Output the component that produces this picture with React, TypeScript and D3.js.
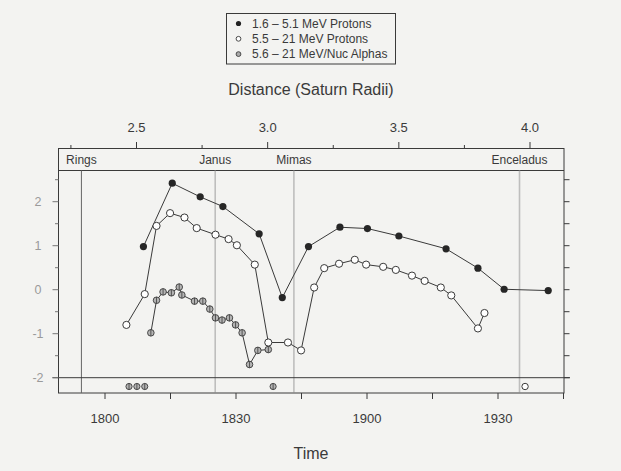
import React from "react";
import * as d3 from "d3";

// ---- data (time in minutes after 18:00, values are log intensity) ----
const lowProtonTime = [8.8, 15.4, 21.8, 27.0, 35.3, 40.6, 46.6, 53.8, 60.1, 67.3, 78.1, 85.4, 91.4, 101.5];
const lowProtonVal = [0.98, 2.42, 2.11, 1.89, 1.27, -0.18, 0.98, 1.42, 1.39, 1.22, 0.93, 0.49, 0.01, -0.02];

const highProtonTime = [4.9, 9.1, 11.8, 14.9, 18.2, 21.0, 25.3, 28.3, 30.2, 34.3, 37.4, 41.9, 44.9, 47.9, 50.2, 53.6, 57.2, 59.8, 63.7, 66.6, 70.3, 73.2, 76.9, 79.3, 85.4, 86.9];
const highProtonVal = [-0.8, -0.1, 1.45, 1.74, 1.64, 1.4, 1.25, 1.15, 1.01, 0.57, -1.2, -1.2, -1.38, 0.05, 0.49, 0.59, 0.68, 0.57, 0.52, 0.45, 0.32, 0.2, 0.05, -0.13, -0.88, -0.53];
const highProtonBelowTime = [96.2];

const alphaTime = [10.5, 11.8, 13.3, 15.2, 17.0, 17.6, 20.5, 22.4, 24.0, 25.3, 26.8, 28.5, 29.9, 31.4, 33.1, 35.0, 37.4];
const alphaVal = [-0.98, -0.24, -0.05, -0.07, 0.06, -0.12, -0.26, -0.26, -0.44, -0.64, -0.69, -0.64, -0.8, -0.98, -1.7, -1.38, -1.36];
const alphaBelowTime = [5.5, 7.3, 9.1, 38.5];

const moonNames = ["Rings", "Janus", "Mimas", "Enceladus"];
const moonDist = [2.29, 2.8, 3.1, 3.96];

const timeTicks = [0, 15, 30, 45, 60, 75, 90, 105];
const timeLabelTicks = [0, 30, 60, 90];
const timeLabels = ["1800", "1830", "1900", "1930"];

const distTicks = [2.25, 2.5, 2.75, 3.0, 3.25, 3.5, 3.75, 4.0];
const distLabelTicks = [2.5, 3.0, 3.5, 4.0];

const yTicks = [-2, -1.5, -1, -0.5, 0, 0.5, 1, 1.5, 2, 2.5];
const yLabelTicks = [-2, -1, 0, 1, 2];

const legendLabels = ["1.6 \u2013 5.1 MeV Protons", "5.5 \u2013 21 MeV Protons", "5.6 \u2013 21 MeV/Nuc Alphas"];

const BELOW = -2.2;

const W = 621;
const H = 471;
const FONT = "'Liberation Sans', Arial, Helvetica, sans-serif";
const INK = "#3a3a3a";

export default function App() {
  const left = 58.5, right = 564, boxTop = 148.5, bandBottom = 170.5, boxBottom = 393;
  const x = d3.scaleLinear().domain([0, 90]).range([105, 498]);
  const dist = d3.scaleLinear().domain([2.5, 4.0]).range([136.5, 530]);
  const y = d3.scaleLinear().domain([-2, 2]).range([377.7, 201.7]);

  const line = d3.line<[number, number]>().x((d) => x(d[0])).y((d) => y(d[1]));
  const lowPts = lowProtonTime.map((t, i) => [t, lowProtonVal[i]] as [number, number]);
  const highPts = highProtonTime.map((t, i) => [t, highProtonVal[i]] as [number, number]);
  const alphaPts = alphaTime.map((t, i) => [t, alphaVal[i]] as [number, number]);

  const alphaMarker = (cx: number, cy: number, r: number, key: string) => (
    <g key={key}>
      <circle cx={cx} cy={cy} r={r} fill="#b4b4b4" stroke={INK} strokeWidth={0.9} />
      <line x1={cx} x2={cx} y1={cy - r} y2={cy + r} stroke={INK} strokeWidth={0.8} />
    </g>
  );

  return (
    <svg width={W} height={H} style={{ position: "absolute", left: 0, top: 0 }} fontFamily={FONT}>
      <rect x={0} y={0} width={W} height={H} fill="#f3f3f1" />

      {/* legend */}
      <rect x={226.5} y={13.5} width={169} height={50.5} fill="none" stroke={INK} strokeWidth={1} />
      {legendLabels.map((lab, i) => {
        const cy = 23.5 + i * 15.3;
        return (
          <g key={lab}>
            {i === 0 && <circle cx={238.5} cy={cy} r={2.6} fill="#222" />}
            {i === 1 && <circle cx={238.5} cy={cy} r={2.4} fill="#fff" stroke={INK} strokeWidth={0.9} />}
            {i === 2 && <circle cx={238.5} cy={cy} r={2.4} fill="#aaa" stroke={INK} strokeWidth={0.9} />}
            <text x={252} y={cy + 4.2} fontSize={12} fill={INK}>{lab}</text>
          </g>
        );
      })}

      {/* top axis title */}
      <text x={311} y={95} fontSize={16} textAnchor="middle" fill={INK}>Distance (Saturn Radii)</text>

      {/* top axis */}
      {distTicks.map((d) => {
        const major = distLabelTicks.includes(d);
        return <line key={"dt" + d} x1={dist(d)} x2={dist(d)} y1={boxTop} y2={boxTop - (major ? 6.5 : 3.5)} stroke={INK} strokeWidth={1} />;
      })}
      {distLabelTicks.map((d) => (
        <text key={"dl" + d} x={dist(d)} y={131.5} fontSize={13} textAnchor="middle" fill={INK}>{d.toFixed(1)}</text>
      ))}

      {/* box and band */}
      <rect x={left} y={boxTop} width={right - left} height={boxBottom - boxTop} fill="none" stroke={INK} strokeWidth={1} />
      <line x1={left} x2={right} y1={bandBottom} y2={bandBottom} stroke={INK} strokeWidth={1} />
      {moonNames.map((m, i) => (
        <text key={m} x={Math.min(dist(moonDist[i]), right - 34)} y={164} fontSize={12} textAnchor="middle" fill={INK}>{m}</text>
      ))}
      {moonNames.map((m, i) => (
        <line
          key={"ml" + m}
          x1={dist(moonDist[i])}
          x2={dist(moonDist[i])}
          y1={bandBottom}
          y2={boxBottom}
          stroke={i === 0 ? "#666" : "#8a8a8a"}
          strokeWidth={i === 0 ? 1 : 1.6}
          strokeDasharray={i === 0 ? undefined : "1 1"}
        />
      ))}

      {/* -2 separator line */}
      <line x1={52.5} x2={570} y1={y(-2)} y2={y(-2)} stroke={INK} strokeWidth={1} />

      {/* left axis */}
      {yTicks.map((v) => (
        <line key={"yl" + v} x1={left} x2={left - (Number.isInteger(v) ? 6 : 3.5)} y1={y(v)} y2={y(v)} stroke="#777" strokeWidth={1} />
      ))}
      {yLabelTicks.map((v) => (
        <text key={"ylab" + v} x={38} y={y(v) + 4.5} fontSize={12.5} textAnchor="middle" fill="#9a9a9a">{v}</text>
      ))}

      {/* right axis */}
      {yTicks.map((v) => (
        <line key={"yr" + v} x1={right} x2={right + 5.5} y1={y(v)} y2={y(v)} stroke={INK} strokeWidth={1} />
      ))}

      {/* bottom axis */}
      {timeTicks.map((t) => (
        <line key={"bt" + t} x1={x(t)} x2={x(t)} y1={boxBottom} y2={boxBottom + 6} stroke={INK} strokeWidth={1} />
      ))}
      {timeLabelTicks.map((t, i) => (
        <text key={"bl" + t} x={x(t)} y={422.5} fontSize={13} textAnchor="middle" fill={INK}>{timeLabels[i]}</text>
      ))}
      <text x={311} y={459} fontSize={16} textAnchor="middle" fill={INK}>Time</text>

      {/* series lines */}
      <path d={line(alphaPts) || ""} fill="none" stroke={INK} strokeWidth={1} />
      <path d={line(highPts) || ""} fill="none" stroke={INK} strokeWidth={1} />
      <path d={line(lowPts) || ""} fill="none" stroke={INK} strokeWidth={1} />

      {/* markers */}
      {alphaPts.map((p, i) => alphaMarker(x(p[0]), y(p[1]), 3.3, "a" + i))}
      {alphaBelowTime.map((t, i) => alphaMarker(x(t), y(BELOW), 3.1, "ab" + i))}
      {highPts.map((p, i) => (
        <circle key={"h" + i} cx={x(p[0])} cy={y(p[1])} r={3.6} fill="#fff" stroke={INK} strokeWidth={1} />
      ))}
      {highProtonBelowTime.map((t, i) => (
        <circle key={"hb" + i} cx={x(t)} cy={y(BELOW)} r={3.2} fill="#fff" stroke={INK} strokeWidth={1} />
      ))}
      {lowPts.map((p, i) => (
        <circle key={"l" + i} cx={x(p[0])} cy={y(p[1])} r={3.6} fill="#262626" />
      ))}
    </svg>
  );
}
